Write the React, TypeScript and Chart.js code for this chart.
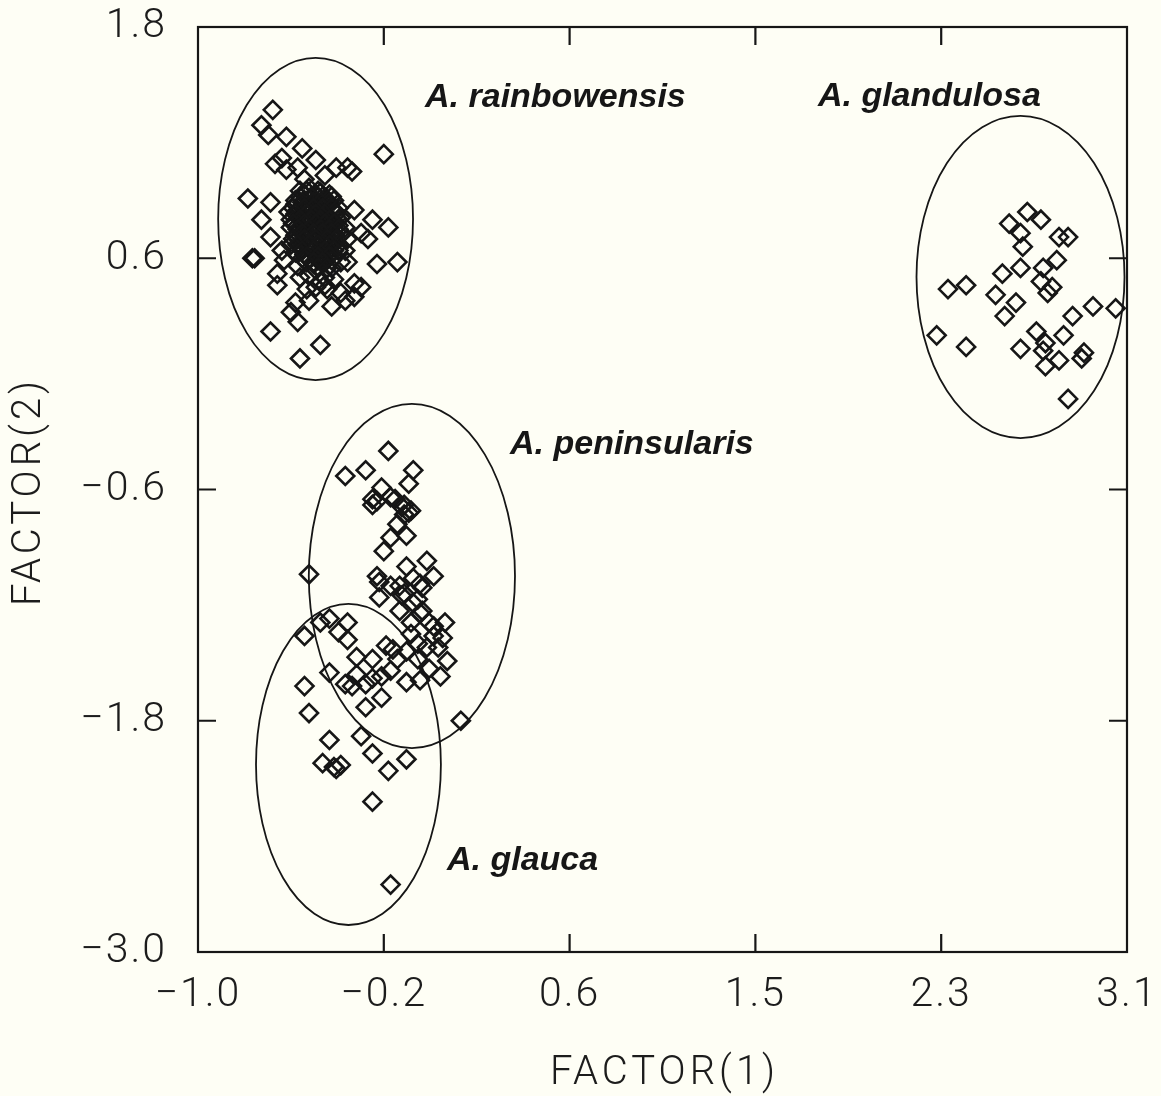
import React, { useEffect, useRef } from "react";
import { Chart, registerables } from "chart.js";

Chart.register(...registerables);

// ---------- axis ticks and titles ----------
const X_TICK_VALUES = [-1.0, -0.18, 0.64, 1.46, 2.28, 3.1];
const X_TICK_LABELS = ["\u22121.0", "\u22120.2", "0.6", "1.5", "2.3", "3.1"];
const Y_TICK_VALUES = [-3.0, -1.8, -0.6, 0.6, 1.8];
const Y_TICK_LABELS = ["\u22123.0", "\u22121.8", "\u22120.6", "0.6", "1.8"];
const X_TITLE = "FACTOR(1)";
const Y_TITLE = "FACTOR(2)";

// ---------- data: [FACTOR(1), FACTOR(2)] ----------
const RAINBOWENSIS: [number, number][] = [
  [-0.67, 1.37], [-0.72, 1.29], [-0.69, 1.24], [-0.61, 1.23], [-0.54, 1.17],
  [-0.18, 1.14], [-0.63, 1.12], [-0.66, 1.09], [-0.56, 1.07], [-0.48, 1.11],
  [-0.61, 1.06], [-0.39, 1.07], [-0.34, 1.07], [-0.53, 1.01], [-0.44, 1.03],
  [-0.78, 0.91], [-0.68, 0.89], [-0.57, 0.90], [-0.72, 0.80], [-0.60, 0.84],
  [-0.31, 0.85], [-0.23, 0.80], [-0.16, 0.76], [-0.68, 0.71], [-0.59, 0.76],
  [-0.76, 0.60], [-0.75, 0.60], [-0.65, 0.52], [-0.65, 0.46], [-0.57, 0.37],
  [-0.59, 0.32], [-0.68, 0.22], [-0.46, 0.15], [-0.55, 0.08], [-0.56, 0.27],
  [-0.21, 0.57], [-0.12, 0.58], [-0.31, 0.47], [-0.28, 0.45], [-0.31, 0.40],
  [-0.41, 0.35], [-0.37, 0.42], [-0.48, 0.45], [-0.52, 0.44], [-0.35, 0.38],
  [-0.55, 0.50], [-0.44, 0.50], [-0.40, 0.49], [-0.34, 0.58], [-0.28, 0.73],
  [-0.25, 0.70], [-0.35, 0.76], [-0.34, 0.70], [-0.38, 0.64], [-0.44, 0.58],
  [-0.49, 0.57], [-0.56, 0.56], [-0.62, 0.59], [-0.63, 0.64], [-0.32, 1.05],
  [-0.51, 0.38],
  [-0.55, 0.95], [-0.51, 0.965], [-0.46, 0.94], [-0.42, 0.93], [-0.57, 0.88],
  [-0.53, 0.90], [-0.48, 0.88], [-0.44, 0.87], [-0.40, 0.85], [-0.55, 0.82],
  [-0.51, 0.81], [-0.46, 0.82], [-0.42, 0.79], [-0.37, 0.81], [-0.57, 0.72],
  [-0.53, 0.75], [-0.48, 0.74], [-0.44, 0.72], [-0.40, 0.71], [-0.55, 0.67],
  [-0.51, 0.68], [-0.46, 0.65], [-0.42, 0.64], [-0.53, 0.62], [-0.48, 0.62],
  [-0.44, 0.76], [-0.47, 0.79], [-0.52, 0.70], [-0.50, 0.85], [-0.45, 0.70],
  [-0.41, 0.59], [-0.47, 0.59], [-0.52, 0.58], [-0.59, 0.67], [-0.37, 0.58],
  [-0.37, 0.72], [-0.43, 0.82], [-0.56, 0.77], [-0.48, 0.54], [-0.44, 0.46],
  [-0.53, 0.93], [-0.48, 0.93], [-0.44, 0.91], [-0.56, 0.85], [-0.51, 0.87],
  [-0.47, 0.85], [-0.43, 0.88], [-0.38, 0.77], [-0.54, 0.79], [-0.49, 0.77],
  [-0.45, 0.79], [-0.40, 0.75], [-0.56, 0.70], [-0.51, 0.65], [-0.47, 0.71],
  [-0.43, 0.68], [-0.38, 0.67], [-0.54, 0.60], [-0.50, 0.64], [-0.45, 0.61],
  [-0.41, 0.55], [-0.51, 0.51], [-0.46, 0.48], [-0.57, 0.63], [-0.35, 0.64],
  [-0.40, 0.90], [-0.59, 0.80], [-0.43, 0.44],
  [-0.52, 0.95], [-0.47, 0.95],
  [-0.55, 0.92], [-0.50, 0.92], [-0.45, 0.92], [-0.41, 0.92],
  [-0.54, 0.89], [-0.49, 0.89], [-0.46, 0.89], [-0.42, 0.89],
  [-0.58, 0.86], [-0.53, 0.86], [-0.49, 0.86], [-0.45, 0.86], [-0.41, 0.86], [-0.38, 0.86],
  [-0.57, 0.83], [-0.52, 0.83], [-0.48, 0.83], [-0.44, 0.83], [-0.39, 0.83],
  [-0.55, 0.80], [-0.50, 0.80], [-0.46, 0.80], [-0.42, 0.80], [-0.38, 0.80],
  [-0.58, 0.78], [-0.53, 0.78], [-0.48, 0.78], [-0.44, 0.78], [-0.40, 0.78],
  [-0.56, 0.75], [-0.51, 0.75], [-0.46, 0.75], [-0.42, 0.75], [-0.38, 0.75],
  [-0.54, 0.73], [-0.49, 0.73], [-0.45, 0.73], [-0.41, 0.73],
  [-0.58, 0.70], [-0.53, 0.70], [-0.48, 0.70], [-0.43, 0.70], [-0.39, 0.70],
  [-0.56, 0.67], [-0.51, 0.67], [-0.47, 0.67], [-0.42, 0.67],
  [-0.54, 0.64], [-0.49, 0.64], [-0.44, 0.64], [-0.40, 0.64],
  [-0.52, 0.61], [-0.47, 0.61], [-0.42, 0.61],
  [-0.49, 0.58], [-0.45, 0.58],
  [-0.47, 0.55], [-0.43, 0.55],
];

const GLANDULOSA: [number, number][] = [
  [2.66, 0.84], [2.72, 0.80], [2.58, 0.78], [2.63, 0.73], [2.80, 0.71],
  [2.84, 0.71], [2.64, 0.66], [2.79, 0.59], [2.63, 0.55], [2.73, 0.55],
  [2.55, 0.52], [2.39, 0.46], [2.31, 0.44], [2.72, 0.48], [2.77, 0.45],
  [2.75, 0.42], [2.52, 0.41], [2.61, 0.37], [2.56, 0.30], [2.95, 0.35],
  [3.05, 0.34], [2.86, 0.30], [2.26, 0.20], [2.39, 0.14], [2.70, 0.22],
  [2.82, 0.20], [2.74, 0.16], [2.63, 0.13], [2.73, 0.12], [2.80, 0.07],
  [2.74, 0.04], [2.91, 0.11], [2.90, 0.08], [2.84, -0.13],
];

const PENINSULARIS: [number, number][] = [
  [-0.16, -0.40], [-0.35, -0.53], [-0.26, -0.50], [-0.05, -0.50], [-0.07, -0.57],
  [-0.19, -0.59], [-0.23, -0.65], [-0.23, -0.68], [-0.15, -0.64], [-0.13, -0.65],
  [-0.09, -0.68], [-0.06, -0.71], [-0.09, -0.73], [-0.12, -0.78], [-0.08, -0.84],
  [-0.15, -0.85], [-0.18, -0.92], [-0.51, -1.04], [0.01, -0.97], [-0.08, -1.00],
  [0.04, -1.05], [-0.21, -1.05], [-0.20, -1.08], [-0.05, -1.06], [-0.02, -1.09],
  [-0.15, -1.10], [-0.11, -1.10], [-0.01, -1.11], [-0.20, -1.16], [-0.09, -1.14],
  [-0.03, -1.17], [-0.11, -1.23], [-0.01, -1.23], [-0.06, -1.29], [0.02, -1.29],
  [0.09, -1.29], [0.04, -1.36], [0.08, -1.37], [0.01, -1.42], [0.06, -1.42],
  [-0.17, -1.41], [-0.23, -1.48], [-0.30, -1.47], [-0.08, -1.44], [-0.12, -1.48],
  [0.10, -1.49], [-0.03, -1.48], [0.02, -1.53], [0.07, -1.57], [-0.02, -1.59],
  [-0.08, -1.60], [-0.15, -1.54], [-0.19, -1.57], [-0.23, -1.58], [-0.30, -1.56],
  [-0.35, -1.61], [-0.32, -1.62], [-0.26, -1.61], [-0.19, -1.68], [0.16, -1.80],
  [-0.21, -0.66], [-0.10, -0.69], [-0.07, -0.72], [-0.10, -1.15], [-0.05, -1.19],
  [-0.02, -1.24], [0.04, -1.31], [-0.06, -1.35], [-0.03, -1.40], [-0.14, -1.43],
];

const GLAUCA: [number, number][] = [
  [-0.46, -1.29], [-0.42, -1.27], [-0.34, -1.29], [-0.38, -1.34], [-0.34, -1.38],
  [-0.53, -1.36], [-0.42, -1.55], [-0.53, -1.62], [-0.26, -1.73], [-0.51, -1.76],
  [-0.42, -1.90], [-0.28, -1.88], [-0.23, -1.97], [-0.08, -2.00], [-0.16, -2.06],
  [-0.45, -2.02], [-0.40, -2.04], [-0.39, -2.05], [-0.37, -2.03], [-0.23, -2.22],
  [-0.15, -2.65],
];

// ---------- group ellipses and labels ----------
const SPECIES = ["A. rainbowensis", "A. glandulosa", "A. peninsularis", "A. glauca"];
const ELLIPSE_CX = [-0.481, 2.63, -0.056, -0.336];
const ELLIPSE_CY = [0.804, 0.503, -1.049, -2.027];
const ELLIPSE_RX = [0.43, 0.459, 0.455, 0.408];
const ELLIPSE_RY = [0.836, 0.836, 0.893, 0.833];
const LABEL_X = [0.002, 1.736, 0.377, 0.099];
const LABEL_Y = [1.432, 1.437, -0.369, -2.528];

const INK = "#161616";
const TEXT = "#1c1c1c";
const BG = "#fefef5";
const AXIS_FONT = "Roboto, 'Liberation Sans', sans-serif";

const decorPlugin = {
  id: "decor",
  beforeDraw(chart: any) {
    const { ctx, width, height } = chart;
    ctx.save();
    ctx.fillStyle = BG;
    ctx.fillRect(0, 0, width, height);
    ctx.restore();
    // spacing for the light tick lettering
    (ctx as any).letterSpacing = "2px";
  },
  beforeDatasetsDraw(chart: any) {
    const { ctx } = chart;
    const xs = chart.scales.x;
    const ys = chart.scales.y;
    ctx.save();
    (ctx as any).letterSpacing = "0px";
    ctx.strokeStyle = INK;
    ctx.lineWidth = 1.8;
    for (let i = 0; i < SPECIES.length; i++) {
      const cx = xs.getPixelForValue(ELLIPSE_CX[i]);
      const cy = ys.getPixelForValue(ELLIPSE_CY[i]);
      const rx = Math.abs(xs.getPixelForValue(ELLIPSE_CX[i] + ELLIPSE_RX[i]) - cx);
      const ry = Math.abs(ys.getPixelForValue(ELLIPSE_CY[i] + ELLIPSE_RY[i]) - cy);
      ctx.beginPath();
      ctx.ellipse(cx, cy, rx, ry, 0, 0, Math.PI * 2);
      ctx.stroke();
    }
    ctx.fillStyle = INK;
    ctx.font = "italic bold 34px 'Liberation Sans', Arial, sans-serif";
    ctx.textAlign = "left";
    ctx.textBaseline = "middle";
    for (let i = 0; i < SPECIES.length; i++) {
      ctx.fillText(SPECIES[i], xs.getPixelForValue(LABEL_X[i]), ys.getPixelForValue(LABEL_Y[i]));
    }
    ctx.restore();
  },
  afterDraw(chart: any) {
    const { ctx, chartArea } = chart;
    const { left, right, top, bottom } = chartArea;
    const xs = chart.scales.x;
    const ys = chart.scales.y;
    const TL = 18;
    ctx.save();
    ctx.strokeStyle = INK;
    ctx.lineWidth = 2.2;
    ctx.strokeRect(left, top, right - left, bottom - top);
    ctx.beginPath();
    X_TICK_VALUES.slice(1, -1).forEach((v) => {
      const px = xs.getPixelForValue(v);
      ctx.moveTo(px, bottom);
      ctx.lineTo(px, bottom - TL);
      ctx.moveTo(px, top);
      ctx.lineTo(px, top + TL);
    });
    Y_TICK_VALUES.slice(1, -1).forEach((v) => {
      const py = ys.getPixelForValue(v);
      ctx.moveTo(left, py);
      ctx.lineTo(left + TL, py);
      ctx.moveTo(right, py);
      ctx.lineTo(right - TL, py);
    });
    ctx.stroke();

    // axis titles
    (ctx as any).letterSpacing = "4px";
    ctx.fillStyle = TEXT;
    ctx.font = `300 40px ${AXIS_FONT}`;
    ctx.textAlign = "center";
    ctx.textBaseline = "middle";
    ctx.fillText(X_TITLE, (left + right) / 2 + 2, 1074);
    ctx.translate(30, (top + bottom) / 2);
    ctx.rotate(-Math.PI / 2);
    ctx.fillText(Y_TITLE, -2, 0);
    ctx.restore();
  },
};

function toPoints(arr: [number, number][]) {
  return arr.map(([x, y]) => ({ x, y }));
}

export default function App() {
  const canvasRef = useRef<HTMLCanvasElement | null>(null);

  useEffect(() => {
    if (!canvasRef.current) return;
    const pointStyle = {
      pointStyle: "rectRot" as const,
      pointRadius: 9,
      pointHoverRadius: 9,
      pointBorderWidth: 2.6,
      pointBorderColor: INK,
      pointBackgroundColor: "rgba(0,0,0,0)",
      showLine: false,
    };
    const tickFont = { family: AXIS_FONT, size: 41, weight: "300" as any };
    const chart = new Chart(canvasRef.current, {
      type: "scatter",
      data: {
        datasets: [
          { label: SPECIES[0], data: toPoints(RAINBOWENSIS), ...pointStyle },
          { label: SPECIES[1], data: toPoints(GLANDULOSA), ...pointStyle },
          { label: SPECIES[2], data: toPoints(PENINSULARIS), ...pointStyle },
          { label: SPECIES[3], data: toPoints(GLAUCA), ...pointStyle },
        ],
      },
      options: {
        responsive: false,
        animation: false,
        events: [],
        layout: { padding: { top: 27, right: 34, left: 0, bottom: 0 } },
        plugins: { legend: { display: false }, tooltip: { enabled: false } },
        scales: {
          x: {
            type: "linear",
            min: -1.0,
            max: 3.1,
            afterBuildTicks: (s: any) => {
              s.ticks = X_TICK_VALUES.map((v) => ({ value: v }));
            },
            afterFit: (s: any) => {
              s.height = 144;
              s.paddingLeft = 0;
              s.paddingRight = 0;
            },
            grid: { display: false, drawTicks: false },
            border: { display: false },
            ticks: {
              autoSkip: false,
              maxRotation: 0,
              padding: 19,
              color: TEXT,
              font: tickFont,
              callback: (_v: any, i: number) => X_TICK_LABELS[i],
            },
            title: { display: false },
          },
          y: {
            type: "linear",
            min: -3.0,
            max: 1.8,
            afterBuildTicks: (s: any) => {
              s.ticks = Y_TICK_VALUES.map((v) => ({ value: v }));
            },
            afterFit: (s: any) => {
              s.width = 198;
              s.paddingTop = 0;
              s.paddingBottom = 0;
            },
            grid: { display: false, drawTicks: false },
            border: { display: false },
            ticks: {
              autoSkip: false,
              padding: 31,
              color: TEXT,
              font: tickFont,
              callback: (_v: any, i: number) => Y_TICK_LABELS[i],
            },
            title: { display: false },
          },
        },
      },
      plugins: [decorPlugin],
    });
    return () => chart.destroy();
  }, []);

  return (
    <div style={{ position: "absolute", left: 0, top: 0, width: 1161, height: 1096, background: BG }}>
      <canvas ref={canvasRef} width={1161} height={1096} style={{ display: "block" }} />
    </div>
  );
}
